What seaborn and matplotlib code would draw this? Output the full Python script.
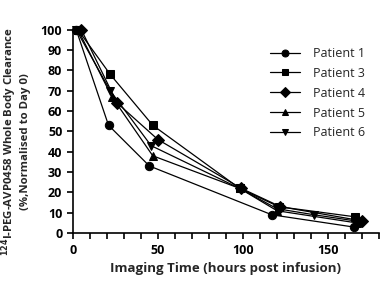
import numpy as np
import matplotlib
matplotlib.use("Agg")
import matplotlib.pyplot as plt
import pandas as pd
import seaborn as sns

patients = ["Patient 1", "Patient 3", "Patient 4", "Patient 5", "Patient 6"]
p1_t = [2, 21, 45, 117, 165]
p1_v = [100, 53, 33, 9, 3]
p3_t = [3, 22, 47, 98, 121, 166]
p3_v = [100, 78, 53, 22, 13, 8]
p4_t = [5, 26, 50, 99, 122, 170]
p4_v = [100, 64, 46, 22, 13, 6]
p5_t = [3, 23, 47, 98, 120, 167]
p5_v = [100, 67, 38, 22, 11, 5]
p6_t = [2, 22, 46, 98, 120, 142, 166]
p6_v = [100, 70, 43, 22, 12, 9, 6]

times = [p1_t, p3_t, p4_t, p5_t, p6_t]
vals = [p1_v, p3_v, p4_v, p5_v, p6_v]

Df = pd.DataFrame()
for name, t, v in zip(patients, times, vals):
    df = pd.DataFrame({"time": t, "value": v, "patient": name})
    Df = pd.concat([Df, df], ignore_index=True)

sns.set_style("ticks")
plt.rcParams["font.family"] = ["Open Sans", "DejaVu Sans"]
plt.rcParams["font.size"] = 8.5

fig = plt.figure(figsize=(3.83, 2.85), dpi=100)
ax1 = fig.add_subplot(111)
plt.subplots_adjust(left=0.19, right=0.99, bottom=0.182, top=0.896)

markers = {"Patient 1": "o", "Patient 3": "s", "Patient 4": "D",
           "Patient 5": "^", "Patient 6": "v"}
palette = {p: "black" for p in patients}
sns.lineplot(data=Df, x="time", y="value", hue="patient", style="patient",
             markers=markers, dashes=False, palette=palette, ax=ax1,
             markersize=6, linewidth=0.9, markeredgecolor="black",
             clip_on=False, legend=True)

ax1.set_xlim(0, 180)
ax1.set_ylim(0, 100)
ax1.set_xticks([0, 50, 100, 150])
ax1.set_xticks(np.arange(0, 181, 10), minor=True)
ax1.set_yticks(np.arange(0, 101, 10))
ax1.tick_params(axis="both", which="both", direction="out", width=1.2, colors="black")
ax1.tick_params(axis="both", which="major", length=4, labelsize=9)
ax1.tick_params(axis="x", which="minor", length=4)
for lab in ax1.get_xticklabels() + ax1.get_yticklabels():
    lab.set_fontweight("bold")
for s in ["left", "bottom"]:
    ax1.spines[s].set_linewidth(1.2)
    ax1.spines[s].set_color("black")
sns.despine(ax=ax1)

ax1.set_xlabel("Imaging Time (hours post infusion)", fontweight="bold", fontsize=9.5)
ax1.set_ylabel("$^{\\mathbf{124}}$I-PEG-AVP0458 Whole Body Clearance\n(%,Normalised to Day 0)",
               fontweight="bold", fontsize=8.2, labelpad=3)
ax1.yaxis.set_label_coords(-0.135, 0.45)

leg = ax1.legend(loc="upper right", bbox_to_anchor=(0.99, 0.97), frameon=False,
                 fontsize=9, handlelength=2.4, labelspacing=0.55, handletextpad=1.0)
for h in leg.legend_handles:
    h.set_markersize(5)

plt.savefig("out.png", dpi=100)
